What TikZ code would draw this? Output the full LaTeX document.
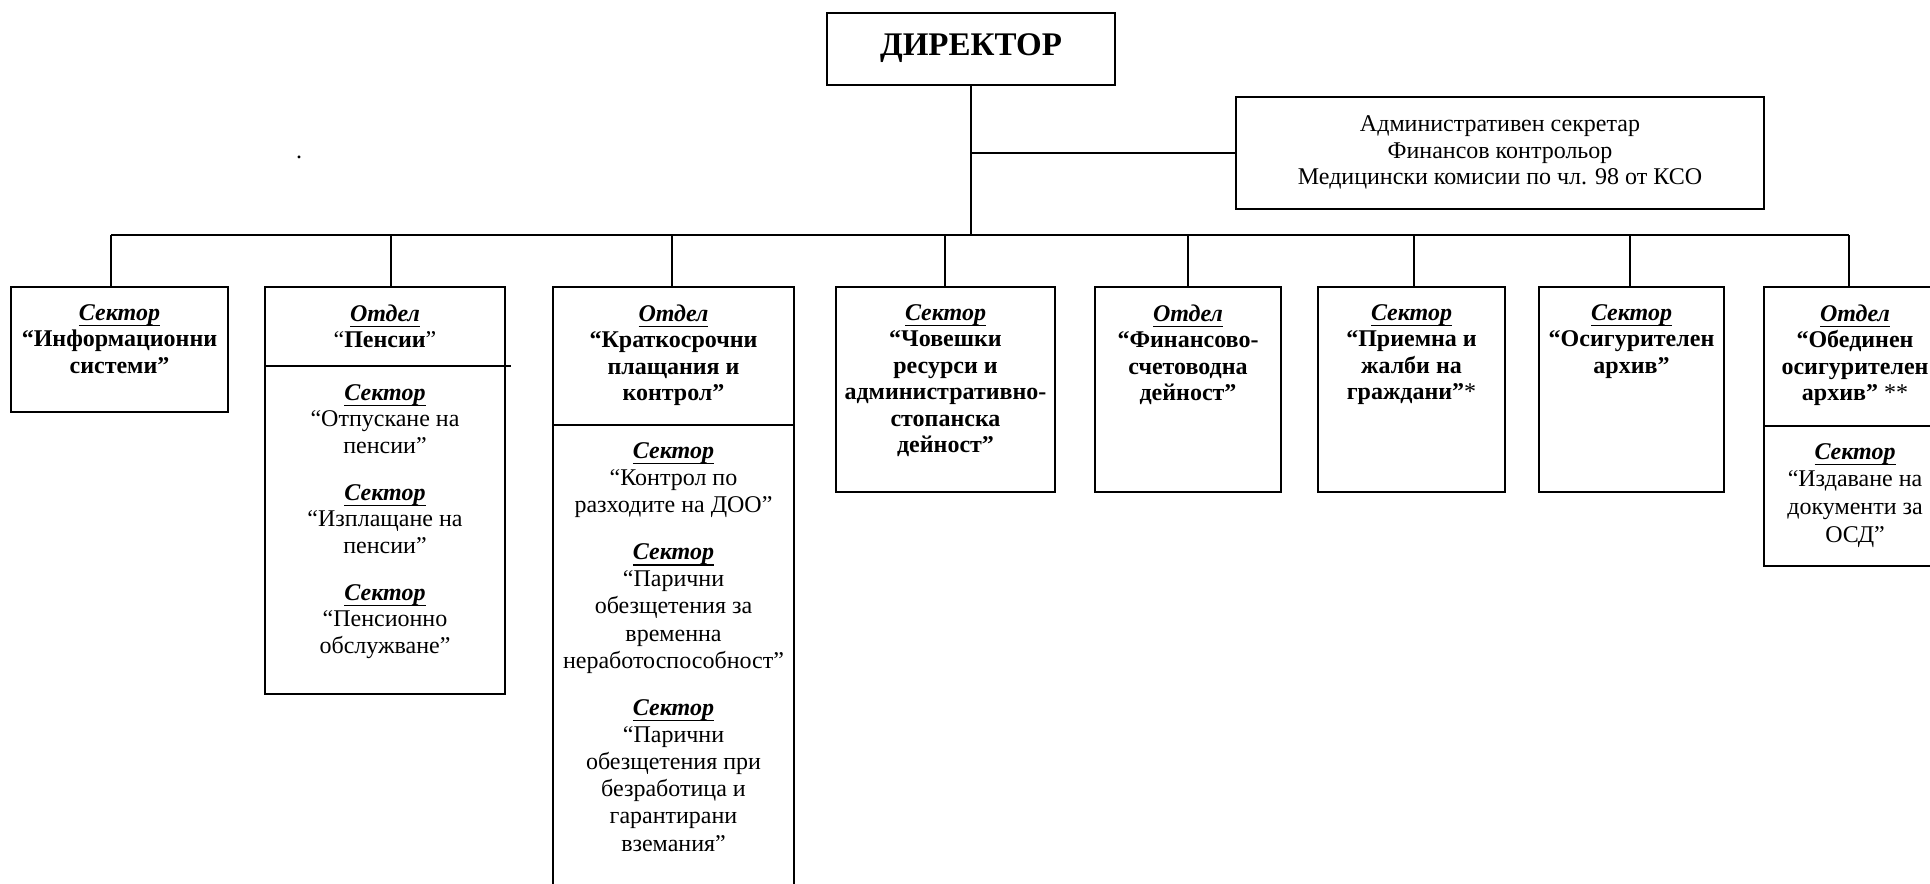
\documentclass[tikz,border=0pt]{standalone}
\usepackage{fontspec}
\setmainfont{Liberation Serif}
\usetikzlibrary{fit,calc}
\newcommand\unitttl[1]{\setbox0\hbox{\textbf{\textit{#1}}}\rlap{\rule[-3.0pt]{\wd0}{0.65pt}}\box0}
\begin{document}
\begin{tikzpicture}[x=0.5pt,y=-0.5pt,
  boxst/.style={draw, line width=1pt, inner sep=0pt},
  txt/.style={anchor=north, align=center, inner sep=0pt, font=\fontsize{12}{13.25}\selectfont},
  link/.style={line width=0.85pt}]
\useasboundingbox[fill=white] (0,0) rectangle (1930,883);

% director and staff box
\node[fit={(827,13) (1115,85)}, boxst] (dir) {};
\node[font=\fontsize{16.5}{19}\selectfont\bfseries] (dirt) at (971,48.5) {ДИРЕКТОР};
\node[fit={(1236,97) (1764,209)}, boxst] (adm) {};
\node[txt, anchor=center] (admt) at (1500,152.5) {Административен секретар\\Финансов контрольор\\Медицински комисии по чл. 98 от КСО};
\node[anchor=base, inner sep=0pt, font=\fontsize{12}{13.25}\selectfont] (dot) at (299,158) {.};

% units
\node[fit={(11,287) (228,412)}, boxst] (b1) {};
\node[fit={(265,287) (505,694)}, boxst] (b2) {};
\node[fit={(553,287) (794,900)}, boxst] (b3) {};
\node[fit={(836,287) (1055,492)}, boxst] (b4) {};
\node[fit={(1095,287) (1281,492)}, boxst] (b5) {};
\node[fit={(1318,287) (1505,492)}, boxst] (b6) {};
\node[fit={(1539,287) (1724,492)}, boxst] (b7) {};
\node[fit={(1764,287) (1946,566)}, boxst] (b8) {};

% dividers
\draw[line width=1pt] ($(b2.north west)+(0,80)$) -- ($(b2.north east)+(5,80)$);
\draw[line width=1pt] ($(b3.north west)+(0,139)$) -- ($(b3.north east)+(0,139)$);
\draw[line width=1pt] ($(b8.north west)+(0,140)$) -- ($(b8.north east)+(0,140)$);

% texts
\node[txt] (t1) at ($(b1.north)+(0,18)$) {\unitttl{Сектор}\\\textbf{“Информационни}\\\textbf{системи”}};
\node[txt] (t2) at ($(b2.north)+(0,18)$) {\unitttl{Отдел}\\“\textbf{Пенсии}”};
\node[txt] (t2b) at ($(b2.north)+(0,98)$) {\unitttl{Сектор}\\“Отпускане на\\пенсии”\\[10.25pt]
  \unitttl{Сектор}\\“Изплащане на\\пенсии”\\[10.25pt]
  \unitttl{Сектор}\\“Пенсионно\\обслужване”};
\node[txt] (t3) at ($(b3.north)+(0,18)$) {\unitttl{Отдел}\\\textbf{“Краткосрочни}\\\textbf{плащания и}\\\textbf{контрол”}};
\node[txt, font=\fontsize{12}{13.6}\selectfont] (t3b) at ($(b3.north)+(0,156)$) {\unitttl{Сектор}\\“Контрол по\\разходите на ДОО”\\[9.8pt]
  \unitttl{Сектор}\\“Парични\\обезщетения за\\временна\\неработоспособност”\\[9.8pt]
  \unitttl{Сектор}\\“Парични\\обезщетения при\\безработица и\\гарантирани\\вземания”};
\node[txt] (t4) at ($(b4.north)+(0,18)$) {\unitttl{Сектор}\\\textbf{“Човешки}\\\textbf{ресурси и}\\\textbf{административно-}\\\textbf{стопанска}\\\textbf{дейност”}};
\node[txt] (t5) at ($(b5.north)+(0,18)$) {\unitttl{Отдел}\\\textbf{“Финансово-}\\\textbf{счетоводна}\\\textbf{дейност”}};
\node[txt] (t6) at ($(b6.north)+(0,18)$) {\unitttl{Сектор}\\\textbf{“Приемна и}\\\textbf{жалби на}\\\textbf{граждани”}*};
\node[txt] (t7) at ($(b7.north)+(0,18)$) {\unitttl{Сектор}\\\textbf{“Осигурителен}\\\textbf{архив”}};
\node[txt] (t8) at ($(b8.north)+(0,18)$) {\unitttl{Отдел}\\\textbf{“Обединен}\\\textbf{осигурителен}\\\textbf{архив”} **};
\node[txt, font=\fontsize{12}{13.8}\selectfont] (t8b) at ($(b8.north)+(0,157)$) {\unitttl{Сектор}\\“Издаване на\\документи за\\ОСД”};

% connectors
\coordinate (busL) at (111,235);
\coordinate (busR) at (1849,235);
\draw[link] (dir.south) -- (dir.south |- busL);
\draw[link] (dir.south |- adm.west) -- (adm.west);
\draw[line width=1pt] (busL) -- (busR);
\foreach \i/\x in {1/111,2/391,3/672,4/945,5/1188,6/1414,7/1630,8/1849} {
  \coordinate (d\i) at (\x,235);
  \draw[link] (d\i) -- (d\i |- b\i.north);
}
\end{tikzpicture}
\end{document}
